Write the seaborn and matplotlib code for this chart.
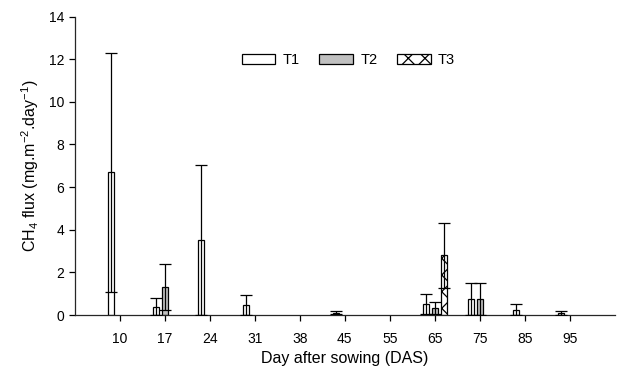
import matplotlib
matplotlib.use("Agg")
import matplotlib.pyplot as plt
import numpy as np
import pandas as pd
import seaborn as sns

# Days after sowing (categories on x axis)
days = ["10", "17", "24", "31", "38", "45", "55", "65", "75", "85", "95"]
treatments = ["T1", "T2", "T3"]

# mean CH4 flux and error per treatment
t1_days = ["10", "17", "24", "31", "45", "65", "75", "85", "95"]
t1_flux = [6.70, 0.39, 3.54, 0.47, 0.11, 0.52, 0.75, 0.25, 0.09]
t1_err = [5.60, 0.39, 3.52, 0.48, 0.08, 0.48, 0.77, 0.27, 0.10]

t2_days = ["17", "65", "75"]
t2_flux = [1.30, 0.33, 0.75]
t2_err = [1.08, 0.30, 0.74]

t3_days = ["65"]
t3_flux = [2.80]
t3_err = [1.53]

df = pd.concat([
    pd.DataFrame({"day": t1_days, "flux": t1_flux, "err": t1_err, "trt": "T1"}),
    pd.DataFrame({"day": t2_days, "flux": t2_flux, "err": t2_err, "trt": "T2"}),
    pd.DataFrame({"day": t3_days, "flux": t3_flux, "err": t3_err, "trt": "T3"}),
], ignore_index=True)

sns.set_style("ticks")
plt.rcParams["font.family"] = ["Liberation Sans", "DejaVu Sans"]
plt.rcParams["mathtext.fontset"] = "custom"
plt.rcParams["mathtext.rm"] = "Liberation Sans"
plt.rcParams["mathtext.it"] = "Liberation Sans:italic"
plt.rcParams["mathtext.bf"] = "Liberation Sans:bold"
plt.rcParams["hatch.linewidth"] = 0.9
plt.rcParams["text.color"] = "black"
plt.rcParams["axes.labelcolor"] = "black"
plt.rcParams["xtick.color"] = "black"
plt.rcParams["ytick.color"] = "black"

fig, ax = plt.subplots(figsize=(6.18, 3.68), dpi=100)
fig.subplots_adjust(left=0.121, right=0.995, bottom=0.144, top=0.955)

colors = {"T1": "white", "T2": "#c0c0c0", "T3": "white"}
sns.barplot(
    data=df, x="day", y="flux", hue="trt", order=days, hue_order=treatments,
    palette=colors, errorbar=None, width=0.6, gap=0.33, dodge=True,
    edgecolor="black", linewidth=0.9, saturation=1, ax=ax,
)

# hatch for T3 and error bars from the bar positions
for container, trt in zip(ax.containers, treatments):
    sub = df[df.trt == trt]
    for bar in container:
        if trt == "T3":
            bar.set_hatch("xx")
        h = bar.get_height()
        if np.isnan(h):
            continue
        xc = bar.get_x() + bar.get_width() / 2
        match = sub[np.isclose(sub.flux, h)]
        if len(match) == 0:
            continue
        e = match.err.iloc[0]
        ax.errorbar(xc, h, yerr=e, fmt="none", ecolor="black",
                    elinewidth=0.9, capsize=4.3, capthick=0.9, zorder=3)

ax.set_xlim(-1, 11)
ax.set_ylim(0, 14)
ax.set_yticks(range(0, 15, 2))
ax.set_xlabel("Day after sowing (DAS)", fontsize=11.5, labelpad=4)
ax.set_ylabel(r"CH$_\mathrm{4}$ flux (mg.m$^\mathrm{-2}$.day$^\mathrm{-1}$)",
              fontsize=11.5, labelpad=6)
ax.tick_params(axis="both", labelsize=10, length=4, width=0.9, direction="out")
ax.tick_params(axis="x", pad=8)
for side in ["left", "bottom"]:
    ax.spines[side].set_linewidth(0.9)
sns.despine(ax=ax)

handles, labels = ax.get_legend_handles_labels()
for h, trt in zip(handles, labels):
    if trt == "T3":
        h.set_hatch("xx")
ax.legend(handles, labels, ncol=3, frameon=False, loc="center left",
          bbox_to_anchor=(0.309, 0.855), handlelength=2.3, handleheight=0.65,
          columnspacing=1.35, handletextpad=0.5, fontsize=10.5,
          borderaxespad=0, borderpad=0)

fig.savefig("out.png", dpi=100)
